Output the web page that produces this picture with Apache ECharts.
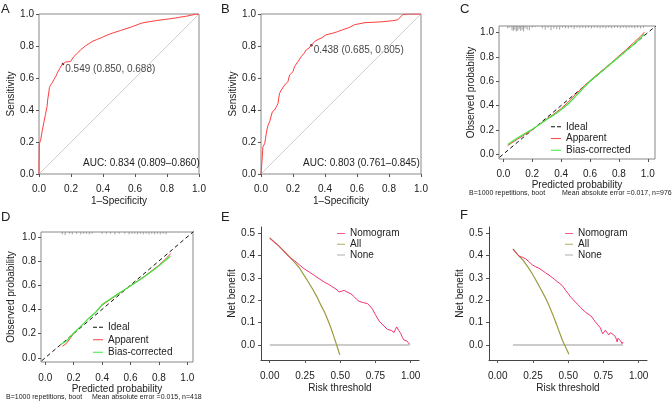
<!DOCTYPE html>
<html>
<head>
<meta charset="utf-8">
<script src="https://cdn.jsdelivr.net/npm/echarts@6/dist/echarts.min.js"></script>
<style>html,body{margin:0;padding:0;background:#fff}#main{width:672px;height:405px}</style>
</head>
<body>
<div id="main"></div>
<script>
// ---- ROC (A: training, B: validation), points are [1-specificity, sensitivity]
var rocA = [[0,0],[0,0.06],[0.002,0.19],[0.01,0.21],[0.02,0.27],[0.03,0.32],[0.04,0.37],[0.05,0.42],[0.055,0.47],[0.06,0.50],[0.065,0.54],[0.072,0.556],[0.083,0.57],[0.093,0.59],[0.105,0.61],[0.114,0.63],[0.13,0.66],[0.145,0.685],[0.15,0.688],[0.166,0.70],[0.197,0.703],[0.218,0.734],[0.24,0.755],[0.26,0.776],[0.29,0.80],[0.332,0.828],[0.36,0.84],[0.395,0.854],[0.43,0.87],[0.457,0.88],[0.51,0.897],[0.55,0.91],[0.58,0.92],[0.62,0.935],[0.645,0.944],[0.69,0.952],[0.728,0.958],[0.77,0.964],[0.81,0.969],[0.853,0.975],[0.88,0.98],[0.915,0.985],[0.95,0.992],[0.978,0.998],[1,1]];
var rocB = [[0,0],[0.004,0.05],[0.008,0.107],[0.012,0.17],[0.023,0.19],[0.028,0.22],[0.033,0.253],[0.038,0.28],[0.044,0.305],[0.054,0.326],[0.06,0.35],[0.071,0.389],[0.085,0.40],[0.096,0.42],[0.106,0.44],[0.11,0.47],[0.116,0.504],[0.127,0.525],[0.148,0.556],[0.168,0.577],[0.179,0.619],[0.2,0.64],[0.21,0.672],[0.231,0.703],[0.252,0.734],[0.27,0.755],[0.283,0.776],[0.3,0.787],[0.315,0.805],[0.335,0.828],[0.355,0.84],[0.376,0.849],[0.407,0.87],[0.449,0.88],[0.48,0.89],[0.511,0.902],[0.55,0.915],[0.584,0.933],[0.594,0.944],[0.65,0.946],[0.699,0.948],[0.76,0.952],[0.823,0.958],[0.855,0.964],[0.87,0.98],[0.886,0.996],[0.917,1],[1,1]];
var cutA = [0.150, 0.688], cutLabelA = '0.549 (0.850, 0.688)', aucA = 'AUC: 0.834 (0.809\u20130.860)';
var cutB = [0.315, 0.805], cutLabelB = '0.438 (0.685, 0.805)', aucB = 'AUC: 0.803 (0.761\u20130.845)';
var rocTicks = [0, 0.2, 0.4, 0.6, 0.8, 1];

// ---- calibration (C: training, D: validation), [predicted, observed]
var apparentC = [[0.03,0.07],[0.1,0.125],[0.2,0.2],[0.25,0.245],[0.3,0.29],[0.35,0.33],[0.4,0.375],[0.45,0.43],[0.5,0.49],[0.55,0.55],[0.6,0.605],[0.65,0.655],[0.7,0.705],[0.75,0.755],[0.8,0.808],[0.85,0.86],[0.9,0.915],[0.95,0.97],[0.977,1.005]];
var biasC = [[0.03,0.08],[0.1,0.135],[0.2,0.205],[0.25,0.245],[0.3,0.285],[0.35,0.322],[0.4,0.365],[0.45,0.415],[0.5,0.475],[0.55,0.54],[0.6,0.6],[0.65,0.65],[0.7,0.7],[0.75,0.75],[0.8,0.8],[0.85,0.85],[0.9,0.9],[0.95,0.955],[0.977,0.99]];
var apparentD = [[0.12,0.095],[0.15,0.12],[0.2,0.2],[0.25,0.26],[0.3,0.32],[0.35,0.37],[0.4,0.435],[0.45,0.475],[0.5,0.515],[0.55,0.555],[0.6,0.595],[0.65,0.635],[0.7,0.675],[0.75,0.72],[0.8,0.765],[0.85,0.82],[0.884,0.862]];
var biasD = [[0.11,0.11],[0.15,0.14],[0.2,0.205],[0.25,0.26],[0.3,0.32],[0.35,0.37],[0.4,0.44],[0.45,0.48],[0.5,0.52],[0.55,0.556],[0.6,0.595],[0.65,0.633],[0.7,0.672],[0.75,0.715],[0.8,0.76],[0.85,0.81],[0.88,0.84]];
var rugCx = [0.03,0.045,0.06,0.07,0.08,0.09,0.1,0.11,0.12,0.13,0.14,0.15,0.165,0.18,0.2,0.22,0.27,0.29,0.31,0.33,0.35,0.37,0.39,0.41,0.43,0.45,0.47,0.49,0.51,0.53,0.55,0.57,0.59,0.61,0.63,0.65,0.67,0.69,0.71,0.73,0.75,0.77,0.79,0.81,0.83,0.85,0.87,0.89,0.91,0.93,0.95,0.97];
var rugCh = [0.02,0.015,0.035,0.04,0.03,0.045,0.04,0.025,0.04,0.03,0.045,0.02,0.03,0.035,0.015,0.01,0.02,0.03,0.015,0.035,0.02,0.025,0.03,0.015,0.02,0.02,0.015,0.025,0.015,0.02,0.015,0.02,0.015,0.02,0.015,0.015,0.02,0.015,0.02,0.015,0.02,0.015,0.015,0.02,0.015,0.02,0.015,0.015,0.02,0.015,0.02,0.015];
var rugDx = [0.12,0.14,0.17,0.19,0.22,0.25,0.27,0.29,0.31,0.33,0.40,0.43,0.46,0.49,0.52,0.56,0.59,0.61,0.63,0.65,0.67,0.69,0.71,0.73,0.75,0.77,0.79,0.81,0.83,0.85];
var rugDh = [0.02,0.025,0.015,0.02,0.015,0.02,0.015,0.015,0.02,0.015,0.015,0.015,0.015,0.02,0.015,0.015,0.02,0.015,0.015,0.02,0.015,0.02,0.015,0.02,0.015,0.02,0.015,0.02,0.015,0.02];
var ideal = [[-0.1,-0.1],[1.1,1.1]];
var calTicks = [0, 0.2, 0.4, 0.6, 0.8, 1];
var noteB = 'B=1000 repetitions, boot';
var noteC = 'Mean absolute error =0.017, n=976', noteD = 'Mean absolute error =0.015, n=418';

// ---- decision curves (E: training, F: validation), [threshold, net benefit]
var nomoE = [[0,0.478],[0.03,0.46],[0.057,0.447],[0.085,0.428],[0.116,0.407],[0.145,0.39],[0.175,0.377],[0.21,0.358],[0.245,0.34],[0.28,0.326],[0.316,0.311],[0.35,0.296],[0.387,0.281],[0.42,0.27],[0.446,0.259],[0.47,0.25],[0.493,0.237],[0.51,0.24],[0.528,0.244],[0.55,0.236],[0.575,0.229],[0.6,0.215],[0.615,0.205],[0.634,0.195],[0.66,0.19],[0.693,0.185],[0.71,0.175],[0.729,0.16],[0.75,0.135],[0.776,0.107],[0.79,0.1],[0.81,0.085],[0.823,0.077],[0.835,0.07],[0.847,0.067],[0.862,0.065],[0.872,0.058],[0.882,0.056],[0.892,0.07],[0.901,0.081],[0.915,0.065],[0.929,0.052],[0.94,0.035],[0.953,0.022],[0.962,0.025],[0.972,0.018],[0.982,0.012],[0.993,0.003]];
var allE = [[0,0.478],[0.058,0.446],[0.116,0.41],[0.175,0.37],[0.21,0.345],[0.245,0.31],[0.275,0.28],[0.304,0.25],[0.335,0.215],[0.363,0.178],[0.39,0.145],[0.41,0.115],[0.435,0.075],[0.458,0.032],[0.48,-0.01],[0.497,-0.044]];
var noneE = [[0,0],[0.993,0]];
var nomoF = [[0.108,0.429],[0.125,0.415],[0.139,0.405],[0.151,0.396],[0.163,0.39],[0.175,0.392],[0.186,0.39],[0.198,0.385],[0.21,0.379],[0.228,0.368],[0.245,0.358],[0.268,0.35],[0.292,0.343],[0.316,0.333],[0.34,0.322],[0.364,0.312],[0.387,0.301],[0.405,0.292],[0.422,0.283],[0.44,0.275],[0.458,0.265],[0.47,0.255],[0.481,0.244],[0.5,0.23],[0.517,0.214],[0.535,0.203],[0.552,0.19],[0.57,0.18],[0.587,0.168],[0.605,0.157],[0.623,0.146],[0.637,0.14],[0.651,0.134],[0.66,0.13],[0.67,0.124],[0.682,0.112],[0.693,0.103],[0.71,0.09],[0.729,0.076],[0.737,0.06],[0.745,0.05],[0.755,0.058],[0.764,0.066],[0.776,0.055],[0.788,0.045],[0.8,0.055],[0.811,0.058],[0.823,0.045],[0.835,0.036],[0.842,0.025],[0.847,0.014],[0.853,0.03],[0.858,0.036],[0.864,0.025],[0.87,0.02],[0.876,0.012],[0.882,0.006],[0.889,0.014]];
var allF = [[0.108,0.429],[0.14,0.405],[0.175,0.382],[0.21,0.352],[0.245,0.318],[0.275,0.285],[0.304,0.251],[0.335,0.215],[0.363,0.178],[0.388,0.14],[0.41,0.104],[0.435,0.062],[0.458,0.022],[0.482,-0.01],[0.505,-0.041]];
var noneF = [[0.108,0],[0.889,0]];
var dcaXTicks = [0, 0.25, 0.5, 0.75, 1];
var dcaYTicks = [0, 0.1, 0.2, 0.3, 0.4, 0.5];

var FONT = 'Liberation Sans';
var chart = echarts.init(document.getElementById('main'));

function axis(g, min, max, ticks, dec, name, gap, margin, line) {
  return {
    type: 'value', gridIndex: g, min: min, max: max,
    name: name, nameLocation: 'middle', nameGap: gap,
    nameTextStyle: {fontSize: 10, color: '#222', fontFamily: FONT},
    axisLine: {show: line, onZero: false, lineStyle: {color: '#444', width: 1}},
    axisTick: {show: true, customValues: ticks, length: 3, lineStyle: {color: '#555'}},
    axisLabel: {customValues: ticks, margin: margin, fontSize: 10, color: '#222', fontFamily: FONT,
      formatter: function (v) { return v.toFixed(dec); }},
    splitLine: {show: false}
  };
}
function line(name, g, data, color, w, dash) {
  return {name: name, type: 'line', xAxisIndex: g, yAxisIndex: g, data: data, symbol: 'none',
    silent: true, animation: false, lineStyle: {color: color, width: w || 1, type: dash || 'solid'},
    itemStyle: {color: color}};
}
function cutPoint(g, pt, text) {
  return {type: 'scatter', xAxisIndex: g, yAxisIndex: g, data: [pt], symbolSize: 2.5, silent: true,
    itemStyle: {color: '#000'},
    label: {show: true, position: 'right', distance: 1, offset: [0, 5], formatter: text,
      fontSize: 10, color: '#111', textBorderWidth: 0, fontFamily: FONT}};
}
function rug(g, xs, hs, top) {
  return {type: 'custom', xAxisIndex: g, yAxisIndex: g, silent: true,
    data: xs.map(function (x, i) { return [x, hs[i]]; }),
    renderItem: function (params, api) {
      var p0 = api.coord([api.value(0), top]);
      var p1 = api.coord([api.value(0), top - api.value(1)]);
      return {type: 'line', shape: {x1: p0[0], y1: p0[1], x2: p1[0], y2: p1[1]},
        style: {stroke: '#8a8a8a', lineWidth: 0.8}};
    }};
}

var box = {show: true, borderColor: '#888', borderWidth: 1, backgroundColor: 'transparent'};
var grids = [
  Object.assign({left: 39, top: 14, width: 160, height: 160}, box),
  Object.assign({left: 261, top: 14, width: 160, height: 160}, box),
  Object.assign({left: 499, top: 26, width: 156, height: 133}, box),
  Object.assign({left: 41, top: 232, width: 152, height: 130}, box),
  {left: 261, top: 227, width: 158, height: 133},
  {left: 489, top: 227, width: 158, height: 133}
];

var xAxes = [
  axis(0, 0, 1, rocTicks, 1, '1\u2013Specificity', 22, 10, false),
  axis(1, 0, 1, rocTicks, 1, '1\u2013Specificity', 22, 10, false),
  axis(2, -0.03, 1.05, calTicks, 1, 'Predicted probability', 19, 10, false),
  axis(3, -0.03, 1.04, calTicks, 1, 'Predicted probability', 21, 11, false),
  axis(4, -0.062, 1.059, dcaXTicks, 2, 'Risk threshold', 23, 11, true),
  axis(5, -0.062, 1.059, dcaXTicks, 2, 'Risk threshold', 23, 11, true)
];
var yAxes = [
  axis(0, 0, 1, rocTicks, 1, 'Sensitivity', 23, 5, false),
  axis(1, 0, 1, rocTicks, 1, 'Sensitivity', 23, 5, false),
  axis(2, -0.04, 1.055, calTicks, 1, 'Observed probability', 23, 5, false),
  axis(3, -0.035, 1.04, calTicks, 1, 'Observed probability', 25, 5, false),
  axis(4, -0.067, 0.527, dcaYTicks, 1, 'Net benefit', 23, 6, true),
  axis(5, -0.067, 0.527, dcaYTicks, 1, 'Net benefit', 24, 6, true)
];

var series = [
  line('diagA', 0, [[0,0],[1,1]], '#c8c8c8', 0.8),
  line('rocA', 0, rocA, '#ff3c3c', 1),
  cutPoint(0, cutA, cutLabelA),
  line('diagB', 1, [[0,0],[1,1]], '#c8c8c8', 0.8),
  line('rocB', 1, rocB, '#ff3c3c', 1),
  cutPoint(1, cutB, cutLabelB),
  rug(2, rugCx, rugCh, 1.055),
  line('Ideal', 2, ideal, '#111', 1, [4, 3]),
  line('Apparent', 2, apparentC, '#ff4040', 1),
  line('Bias-corrected', 2, biasC, '#3ee83e', 1.2),
  rug(3, rugDx, rugDh, 1.04),
  line('Ideal', 3, ideal, '#111', 1, [4, 3]),
  line('Apparent', 3, apparentD, '#ff4040', 1),
  line('Bias-corrected', 3, biasD, '#3ee83e', 1.2),
  line('None', 4, noneE, '#999', 1),
  line('All', 4, allE, '#9c9a3c', 1.2),
  line('Nomogram', 4, nomoE, '#f0306e', 1),
  line('None', 5, noneF, '#999', 1),
  line('All', 5, allF, '#9c9a3c', 1.2),
  line('Nomogram', 5, nomoF, '#f0306e', 1)
];

var SOLID = 'path://M0,0h10v1h-10z';
var DASHED = 'path://M0,0h4v1h-4z M6,0h4v1h-4z';
function legend(left, top, names, icons, w, lh) {
  return {left: left, top: top, orient: 'vertical', padding: 0, itemGap: 0, itemWidth: w, itemHeight: 1.4,
    selectedMode: false,
    data: names.map(function (n, i) { return {name: n, icon: icons[i]}; }),
    textStyle: {fontSize: 10, color: '#222', fontFamily: FONT, lineHeight: lh}};
}

function txt(x, y, s, size) {
  return {type: 'text', left: x, top: y, style: {text: s, fontSize: size, fill: '#222', fontFamily: FONT}};
}

chart.setOption({
  animation: false,
  textStyle: {fontFamily: FONT},
  grid: grids,
  xAxis: xAxes,
  yAxis: yAxes,
  series: series,
  legend: [
    legend(551, 121, ['Ideal', 'Apparent', 'Bias-corrected'], [DASHED, SOLID, SOLID], 10, 11.7),
    legend(93, 321, ['Ideal', 'Apparent', 'Bias-corrected'], [DASHED, SOLID, SOLID], 10, 12.5),
    legend(337, 228, ['Nomogram', 'All', 'None'], [SOLID, SOLID, SOLID], 8, 10.8),
    legend(565, 228, ['Nomogram', 'All', 'None'], [SOLID, SOLID, SOLID], 8, 10.8)
  ],
  graphic: [
    txt(1, 3, 'A', 13), txt(221, 3, 'B', 13), txt(460, 3, 'C', 13),
    txt(1, 211, 'D', 13), txt(221, 211, 'E', 13), txt(460, 209, 'F', 13),
    txt(83, 158, aucA, 10), txt(303, 158, aucB, 10),
    txt(469, 190, noteB, 7), txt(562, 190, noteC, 7),
    txt(6, 394, noteB, 7), txt(92, 394, noteD, 7)
  ]
});
</script>
</body>
</html>
